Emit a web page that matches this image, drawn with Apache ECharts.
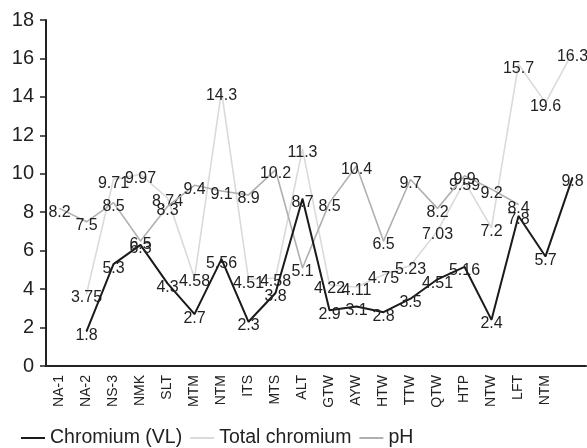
<!DOCTYPE html>
<html>
<head>
<meta charset="utf-8">
<script src="https://cdn.jsdelivr.net/npm/echarts@6/dist/echarts.min.js"></script>
<style>
html,body{margin:0;padding:0;background:#fff;}
#chart{width:587px;height:448px;}
</style>
</head>
<body>
<div id="chart"></div>
<script>
const categories = ['NA-1','NA-2','NS-3','NMK','SLT','MTM','NTM','ITS','MTS','ALT','GTW','AYW','HTW','TTW','QTW','HTP','NTW','LFT','NTM',''];
const chromiumVL = [null,1.8,5.3,6.3,4.3,2.7,5.56,2.3,3.8,8.7,2.9,3.1,2.8,3.5,4.51,5.16,2.4,7.8,5.7,9.8];
const totalChromium = [null,3.75,9.71,9.97,8.74,4.58,14.3,4.51,4.58,11.3,4.22,4.11,4.75,5.23,7.03,9.59,7.2,15.7,13.7,16.3];
const totalChromiumLabels = ['','3.75','9.71','9.97','8.74','4.58','14.3','4.51','4.58','11.3','4.22','4.11','4.75','5.23','7.03','9.59','7.2','15.7','19.6','16.3'];
const pH = [8.2,7.5,8.5,6.5,8.3,9.4,9.1,8.9,10.2,5.1,8.5,10.4,6.5,9.7,8.2,9.9,9.2,8.4,null,null];
const yTicks = {min:0, max:18, interval:2};

const regular = "'Liberation Sans',Arial,sans-serif";

function labelCfg(fmt){
  return {
    show:true, position:'inside', offset:[0,4],
    color:'#222', fontFamily:regular, fontSize:16,
    formatter: fmt || (p => p.value == null ? '' : String(p.value))
  };
}

const chart = echarts.init(document.getElementById('chart'), null, {renderer:'canvas'});
chart.setOption({
  animation:false,
  backgroundColor:'#fff',
  grid:{left:46, right:1, top:20, bottom:82, containLabel:false},
  legend:{
    top:423, left:16, itemWidth:24, itemHeight:2, itemGap:8, icon:'rect',
    data:['Chromium (VL)','Total chromium','pH'],
    textStyle:{fontFamily:regular, fontSize:19.5, color:'#222'}
  },
  xAxis:{
    type:'category', data:categories, boundaryGap:true,
    axisLine:{show:true, lineStyle:{color:'#222', width:2}},
    axisTick:{show:false},
    axisLabel:{rotate:90, interval:0, margin:9, color:'#222', fontFamily:regular, fontSize:14}
  },
  yAxis:{
    type:'value', min:yTicks.min, max:yTicks.max, interval:yTicks.interval,
    splitLine:{show:false},
    axisLine:{show:true, lineStyle:{color:'#222', width:2}},
    axisTick:{show:true, length:6, lineStyle:{color:'#222', width:1.5}},
    axisLabel:{margin:12, color:'#222', fontFamily:regular, fontSize:20}
  },
  series:[
    {
      name:'pH', type:'line', data:pH, z:2,
      symbol:'circle', symbolSize:1, showSymbol:true,
      itemStyle:{color:'#b0b0b0'},
      lineStyle:{color:'#b0b0b0', width:1.6},
      label:labelCfg()
    },
    {
      name:'Total chromium', type:'line', data:totalChromium, z:1,
      symbol:'circle', symbolSize:1, showSymbol:true,
      itemStyle:{color:'#dadada'},
      lineStyle:{color:'#dadada', width:1.6},
      label:labelCfg(p => totalChromiumLabels[p.dataIndex])
    },
    {
      name:'Chromium (VL)', type:'line', data:chromiumVL, z:3,
      symbol:'circle', symbolSize:1, showSymbol:true,
      itemStyle:{color:'#1a1a1a'},
      lineStyle:{color:'#1a1a1a', width:2},
      label:labelCfg()
    }
  ]
});
</script>
</body>
</html>
